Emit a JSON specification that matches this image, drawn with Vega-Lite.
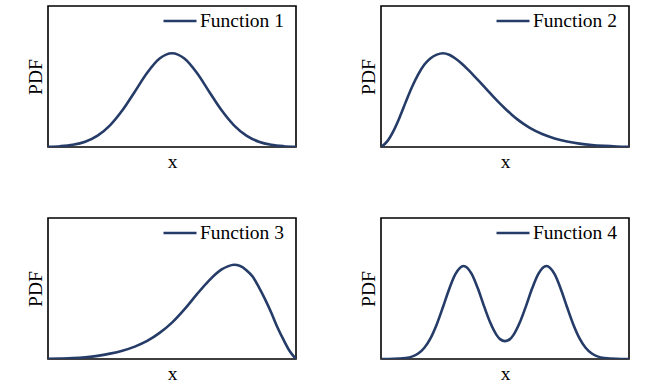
{
  "$schema": "https://vega.github.io/schema/vega-lite/v6.json",
  "padding": {"left": 24, "top": 2, "right": 5, "bottom": 2},
  "background": "white",
  "config": {
    "view": {"stroke": "#000", "strokeWidth": 1.6},
    "font": "Liberation Serif, Times New Roman, Times, serif",
    "axis": {"labels": false, "ticks": false, "domain": false, "grid": false, "titleFont": "Liberation Serif, Times New Roman, Times, serif", "titleFontSize": 19.5, "titleFontWeight": "normal", "titleColor": "#000", "labelPadding": 0, "tickSize": 0},
    "axisX": {"titlePadding": 5},
    "axisY": {"titlePadding": 3},
    "legend": {"labelFont": "Liberation Serif, Times New Roman, Times, serif"}
  },
  "datasets": {
    "d": [
      {"fn": "Function 1", "x": 0, "y": 0.0019},
      {"fn": "Function 1", "x": 5, "y": 0.0058},
      {"fn": "Function 1", "x": 10, "y": 0.0156},
      {"fn": "Function 1", "x": 15, "y": 0.0376},
      {"fn": "Function 1", "x": 20, "y": 0.0805},
      {"fn": "Function 1", "x": 25, "y": 0.1535},
      {"fn": "Function 1", "x": 30, "y": 0.26},
      {"fn": "Function 1", "x": 35, "y": 0.392},
      {"fn": "Function 1", "x": 40, "y": 0.526},
      {"fn": "Function 1", "x": 45, "y": 0.627},
      {"fn": "Function 1", "x": 50, "y": 0.665},
      {"fn": "Function 1", "x": 55, "y": 0.627},
      {"fn": "Function 1", "x": 60, "y": 0.526},
      {"fn": "Function 1", "x": 65, "y": 0.392},
      {"fn": "Function 1", "x": 70, "y": 0.26},
      {"fn": "Function 1", "x": 75, "y": 0.1535},
      {"fn": "Function 1", "x": 80, "y": 0.0805},
      {"fn": "Function 1", "x": 85, "y": 0.0376},
      {"fn": "Function 1", "x": 90, "y": 0.0156},
      {"fn": "Function 1", "x": 95, "y": 0.0058},
      {"fn": "Function 1", "x": 100, "y": 0.0019},

      {"fn": "Function 2", "x": 0, "y": 0},
      {"fn": "Function 2", "x": 2.5, "y": 0.04},
      {"fn": "Function 2", "x": 5, "y": 0.113},
      {"fn": "Function 2", "x": 7.5, "y": 0.21},
      {"fn": "Function 2", "x": 10, "y": 0.32},
      {"fn": "Function 2", "x": 12.5, "y": 0.425},
      {"fn": "Function 2", "x": 15, "y": 0.515},
      {"fn": "Function 2", "x": 17.5, "y": 0.585},
      {"fn": "Function 2", "x": 20, "y": 0.63},
      {"fn": "Function 2", "x": 22.5, "y": 0.655},
      {"fn": "Function 2", "x": 25, "y": 0.665},
      {"fn": "Function 2", "x": 27.5, "y": 0.654},
      {"fn": "Function 2", "x": 30, "y": 0.628},
      {"fn": "Function 2", "x": 32.5, "y": 0.592},
      {"fn": "Function 2", "x": 35, "y": 0.55},
      {"fn": "Function 2", "x": 37.5, "y": 0.505},
      {"fn": "Function 2", "x": 40, "y": 0.458},
      {"fn": "Function 2", "x": 42.5, "y": 0.41},
      {"fn": "Function 2", "x": 45, "y": 0.362},
      {"fn": "Function 2", "x": 47.5, "y": 0.316},
      {"fn": "Function 2", "x": 50, "y": 0.273},
      {"fn": "Function 2", "x": 52.5, "y": 0.233},
      {"fn": "Function 2", "x": 55, "y": 0.196},
      {"fn": "Function 2", "x": 57.5, "y": 0.164},
      {"fn": "Function 2", "x": 60, "y": 0.136},
      {"fn": "Function 2", "x": 65, "y": 0.092},
      {"fn": "Function 2", "x": 70, "y": 0.061},
      {"fn": "Function 2", "x": 75, "y": 0.039},
      {"fn": "Function 2", "x": 80, "y": 0.024},
      {"fn": "Function 2", "x": 85, "y": 0.014},
      {"fn": "Function 2", "x": 90, "y": 0.008},
      {"fn": "Function 2", "x": 95, "y": 0.004},
      {"fn": "Function 2", "x": 100, "y": 0.002},

      {"fn": "Function 3", "x": 0, "y": 0.001},
      {"fn": "Function 3", "x": 5, "y": 0.003},
      {"fn": "Function 3", "x": 10, "y": 0.006},
      {"fn": "Function 3", "x": 15, "y": 0.012},
      {"fn": "Function 3", "x": 20, "y": 0.022},
      {"fn": "Function 3", "x": 25, "y": 0.038},
      {"fn": "Function 3", "x": 30, "y": 0.059},
      {"fn": "Function 3", "x": 35, "y": 0.088},
      {"fn": "Function 3", "x": 40, "y": 0.128},
      {"fn": "Function 3", "x": 45, "y": 0.185},
      {"fn": "Function 3", "x": 50, "y": 0.258},
      {"fn": "Function 3", "x": 55, "y": 0.352},
      {"fn": "Function 3", "x": 60, "y": 0.458},
      {"fn": "Function 3", "x": 65, "y": 0.558},
      {"fn": "Function 3", "x": 70, "y": 0.635},
      {"fn": "Function 3", "x": 72.5, "y": 0.657},
      {"fn": "Function 3", "x": 75, "y": 0.668},
      {"fn": "Function 3", "x": 77.5, "y": 0.66},
      {"fn": "Function 3", "x": 80, "y": 0.63},
      {"fn": "Function 3", "x": 82.5, "y": 0.585},
      {"fn": "Function 3", "x": 85, "y": 0.51},
      {"fn": "Function 3", "x": 87.5, "y": 0.425},
      {"fn": "Function 3", "x": 90, "y": 0.33},
      {"fn": "Function 3", "x": 92.5, "y": 0.225},
      {"fn": "Function 3", "x": 95, "y": 0.135},
      {"fn": "Function 3", "x": 97.5, "y": 0.055},
      {"fn": "Function 3", "x": 100, "y": 0},

      {"fn": "Function 4", "x": 0, "y": 0.0001},
      {"fn": "Function 4", "x": 5, "y": 0.0008},
      {"fn": "Function 4", "x": 10, "y": 0.0068},
      {"fn": "Function 4", "x": 15, "y": 0.0392},
      {"fn": "Function 4", "x": 17.5, "y": 0.08},
      {"fn": "Function 4", "x": 20, "y": 0.1485},
      {"fn": "Function 4", "x": 22.5, "y": 0.247},
      {"fn": "Function 4", "x": 25, "y": 0.369},
      {"fn": "Function 4", "x": 27.5, "y": 0.497},
      {"fn": "Function 4", "x": 30, "y": 0.602},
      {"fn": "Function 4", "x": 33.3, "y": 0.66},
      {"fn": "Function 4", "x": 36.5, "y": 0.6057},
      {"fn": "Function 4", "x": 39, "y": 0.503},
      {"fn": "Function 4", "x": 41.5, "y": 0.377},
      {"fn": "Function 4", "x": 44, "y": 0.26},
      {"fn": "Function 4", "x": 46.5, "y": 0.173},
      {"fn": "Function 4", "x": 48, "y": 0.141},
      {"fn": "Function 4", "x": 50, "y": 0.1267},
      {"fn": "Function 4", "x": 52, "y": 0.141},
      {"fn": "Function 4", "x": 53.5, "y": 0.173},
      {"fn": "Function 4", "x": 56, "y": 0.26},
      {"fn": "Function 4", "x": 58.5, "y": 0.377},
      {"fn": "Function 4", "x": 61, "y": 0.503},
      {"fn": "Function 4", "x": 63.5, "y": 0.6057},
      {"fn": "Function 4", "x": 66.7, "y": 0.66},
      {"fn": "Function 4", "x": 70, "y": 0.602},
      {"fn": "Function 4", "x": 72.5, "y": 0.497},
      {"fn": "Function 4", "x": 75, "y": 0.369},
      {"fn": "Function 4", "x": 77.5, "y": 0.247},
      {"fn": "Function 4", "x": 80, "y": 0.1485},
      {"fn": "Function 4", "x": 82.5, "y": 0.08},
      {"fn": "Function 4", "x": 85, "y": 0.0392},
      {"fn": "Function 4", "x": 90, "y": 0.0068},
      {"fn": "Function 4", "x": 95, "y": 0.0008},
      {"fn": "Function 4", "x": 100, "y": 0.0001}
    ]
  },
  "columns": 2,
  "spacing": {"row": 42, "column": 60},
  "resolve": {"scale": {"color": "independent"}, "legend": {"color": "independent"}},
  "concat": [
    {
      "width": 248, "height": 141,
      "data": {"name": "d"},
      "transform": [{"filter": "datum.fn === 'Function 1'"}],
      "mark": {"type": "line", "interpolate": "monotone", "strokeWidth": 2.6, "clip": true},
      "encoding": {
        "x": {"field": "x", "type": "quantitative", "scale": {"domain": [0, 100], "nice": false}, "title": "x"},
        "y": {"field": "y", "type": "quantitative", "scale": {"domain": [0, 1], "nice": false}, "title": "PDF"},
        "color": {"field": "fn", "type": "nominal", "scale": {"range": ["#263c68"]},
          "legend": {"orient": "none", "legendX": 114, "legendY": -3, "title": null, "symbolType": "stroke", "symbolSize": 1089, "symbolStrokeWidth": 2.6, "labelFontSize": 19.5, "labelColor": "#000", "labelOffset": 2, "padding": 0, "labelLimit": 0}}
      }
    },
    {
      "width": 248, "height": 141,
      "data": {"name": "d"},
      "transform": [{"filter": "datum.fn === 'Function 2'"}],
      "mark": {"type": "line", "interpolate": "monotone", "strokeWidth": 2.6, "clip": true},
      "encoding": {
        "x": {"field": "x", "type": "quantitative", "scale": {"domain": [0, 100], "nice": false}, "title": "x"},
        "y": {"field": "y", "type": "quantitative", "scale": {"domain": [0, 1], "nice": false}, "title": "PDF"},
        "color": {"field": "fn", "type": "nominal", "scale": {"range": ["#263c68"]},
          "legend": {"orient": "none", "legendX": 114, "legendY": -3, "title": null, "symbolType": "stroke", "symbolSize": 1089, "symbolStrokeWidth": 2.6, "labelFontSize": 19.5, "labelColor": "#000", "labelOffset": 2, "padding": 0, "labelLimit": 0}}
      }
    },
    {
      "width": 248, "height": 141,
      "data": {"name": "d"},
      "transform": [{"filter": "datum.fn === 'Function 3'"}],
      "mark": {"type": "line", "interpolate": "monotone", "strokeWidth": 2.6, "clip": true},
      "encoding": {
        "x": {"field": "x", "type": "quantitative", "scale": {"domain": [0, 100], "nice": false}, "title": "x"},
        "y": {"field": "y", "type": "quantitative", "scale": {"domain": [0, 1], "nice": false}, "title": "PDF"},
        "color": {"field": "fn", "type": "nominal", "scale": {"range": ["#263c68"]},
          "legend": {"orient": "none", "legendX": 114, "legendY": -3, "title": null, "symbolType": "stroke", "symbolSize": 1089, "symbolStrokeWidth": 2.6, "labelFontSize": 19.5, "labelColor": "#000", "labelOffset": 2, "padding": 0, "labelLimit": 0}}
      }
    },
    {
      "width": 248, "height": 141,
      "data": {"name": "d"},
      "transform": [{"filter": "datum.fn === 'Function 4'"}],
      "mark": {"type": "line", "interpolate": "monotone", "strokeWidth": 2.6, "clip": true},
      "encoding": {
        "x": {"field": "x", "type": "quantitative", "scale": {"domain": [0, 100], "nice": false}, "title": "x"},
        "y": {"field": "y", "type": "quantitative", "scale": {"domain": [0, 1], "nice": false}, "title": "PDF"},
        "color": {"field": "fn", "type": "nominal", "scale": {"range": ["#263c68"]},
          "legend": {"orient": "none", "legendX": 114, "legendY": -3, "title": null, "symbolType": "stroke", "symbolSize": 1089, "symbolStrokeWidth": 2.6, "labelFontSize": 19.5, "labelColor": "#000", "labelOffset": 2, "padding": 0, "labelLimit": 0}}
      }
    }
  ]
}
